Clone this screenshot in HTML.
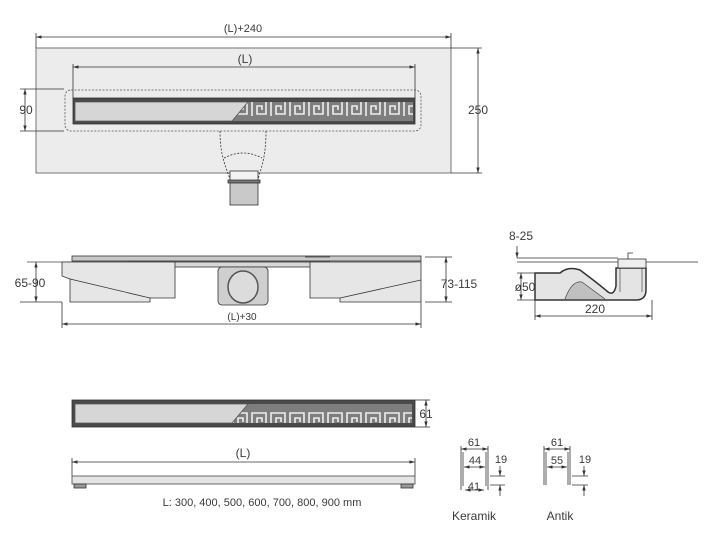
<!DOCTYPE html>
<html><head><meta charset="utf-8"><style>
html,body{margin:0;padding:0;background:#fff;width:715px;height:544px;overflow:hidden}
svg{display:block;font-family:"Liberation Sans",sans-serif}
text{fill:#3a3a3a}
</style></head><body>
<svg width="715" height="544" viewBox="0 0 715 544" xmlns="http://www.w3.org/2000/svg">
<defs>
<marker id="a" viewBox="0 0 10 10" refX="10" refY="5" markerWidth="7" markerHeight="7" orient="auto-start-reverse"><path d="M0,2 L10,5 L0,8z" fill="#333"/></marker>
<pattern id="gk" x="250" y="0" width="19" height="24" patternUnits="userSpaceOnUse">
<rect width="19" height="24" fill="#7e7e7e"/>
<path d="M2,20 V5 H16 V18 H7 V10 H12 V14" fill="none" stroke="#eee" stroke-width="1.6"/>
</pattern>
</defs>
<g stroke="#333" stroke-width="0.8" fill="none">
<!-- TOP VIEW -->
<rect x="36" y="48" width="415" height="125" fill="#ececec" stroke="#555"/>
<line x1="36" y1="37" x2="451" y2="37" marker-start="url(#a)" marker-end="url(#a)"/>
<line x1="36" y1="33" x2="36" y2="48"/><line x1="451" y1="33" x2="451" y2="48"/>
<line x1="478" y1="48" x2="478" y2="173" marker-start="url(#a)" marker-end="url(#a)"/>
<line x1="451" y1="48" x2="482" y2="48"/><line x1="451" y1="173" x2="482" y2="173"/>
<line x1="73" y1="67" x2="415" y2="67" marker-start="url(#a)" marker-end="url(#a)"/>
<line x1="73" y1="64" x2="73" y2="99"/><line x1="415" y1="64" x2="415" y2="99"/>
<line x1="25" y1="89" x2="25" y2="131" marker-start="url(#a)" marker-end="url(#a)"/>
<line x1="20" y1="89" x2="64" y2="89"/><line x1="20" y1="131" x2="64" y2="131"/>
<rect x="65" y="90" width="356" height="41" rx="6" stroke-dasharray="2,1.5" stroke="#555"/>
<rect x="73" y="98" width="342" height="26" fill="#4a4a4a"/>
<rect x="75" y="102" width="338" height="19" fill="url(#gk)" stroke="none"/>
<polygon points="75,102 248,102 232,121 75,121" fill="#d6d6d6" stroke="#555"/>
<path d="M220,131 C220,160 228,170 230,180 M266,131 C266,160 260,170 258,180" stroke-dasharray="2,1.5"/>
<path d="M224,158 Q243,148 262,158" stroke-dasharray="2,1.5"/>
<rect x="230" y="171" width="28" height="10" fill="#f3f3f3"/>
<rect x="228" y="180" width="32" height="3" fill="#777"/>
<rect x="230" y="183" width="28" height="22" fill="#c9c9c9"/>
<!-- SIDE VIEW -->
<rect x="72" y="256" width="349" height="5" fill="#c8c8c8"/>
<line x1="27" y1="262" x2="330" y2="262" stroke="#444"/>
<rect x="130" y="262" width="200" height="5" fill="#d8d8d8"/>
<line x1="305" y1="257" x2="330" y2="257"/>
<path d="M62,262 H175 V298 H150 V302 H70 V279 L62,276Z" fill="#e6e6e6"/>
<path d="M70,279 L150,298" />
<path d="M310,262 H421 V302 H340 V298 H310Z" fill="#e6e6e6"/>
<path d="M340,298 L421,280"/>
<rect x="218" y="267" width="50" height="38" rx="4" fill="#cfcfcf"/>
<ellipse cx="243" cy="287" rx="15" ry="16" fill="#dcdcdc" stroke="#555" stroke-width="1.5"/>
<line x1="36" y1="262" x2="36" y2="302" marker-start="url(#a)" marker-end="url(#a)"/>
<line x1="20" y1="302" x2="62" y2="302"/>
<line x1="446" y1="257" x2="446" y2="302" marker-start="url(#a)" marker-end="url(#a)"/>
<line x1="425" y1="257" x2="452" y2="257"/><line x1="425" y1="302" x2="452" y2="302"/>
<line x1="62" y1="324" x2="421" y2="324" marker-start="url(#a)" marker-end="url(#a)"/>
<line x1="62" y1="302" x2="62" y2="328"/><line x1="421" y1="302" x2="421" y2="328"/>
<!-- DETAIL -->
<line x1="517" y1="258" x2="618" y2="258"/>
<line x1="517" y1="262" x2="698" y2="262"/>
<line x1="517" y1="246" x2="517" y2="258" marker-end="url(#a)"/>
<path d="M535,273 H560 Q568,266 580,270 Q600,285 608,292 Q614,296 616,286 V268 H646 V290 Q646,300 636,300 H535Z" fill="#e4e4e4" stroke="#333" stroke-width="1.5"/>
<path d="M565,299 Q572,280 582,282 L605,299" fill="#c0c0c0" stroke-width="0.6"/>
<path d="M620,268 V292 M642,268 V292" stroke-width="0.6"/>
<rect x="618" y="259" width="28" height="9" fill="#eee"/>
<path d="M628,259 V253 H633"/>
<line x1="521" y1="273" x2="521" y2="300" marker-start="url(#a)" marker-end="url(#a)"/>
<line x1="517" y1="273" x2="535" y2="273"/><line x1="517" y1="300" x2="535" y2="300"/>
<line x1="535" y1="316" x2="652" y2="316" marker-start="url(#a)" marker-end="url(#a)"/>
<line x1="535" y1="300" x2="535" y2="320"/><line x1="652" y1="300" x2="652" y2="320"/>
<!-- BOTTOM GRATE -->
<rect x="72" y="400" width="343" height="27" fill="#4a4a4a"/>
<rect x="75" y="404" width="337" height="19" fill="url(#gk)" stroke="none"/>
<polygon points="75,404 248,404 232,423 75,423" fill="#d6d6d6" stroke="#555"/>
<line x1="426" y1="400" x2="426" y2="427" marker-start="url(#a)" marker-end="url(#a)"/>
<line x1="415" y1="400" x2="430" y2="400"/><line x1="415" y1="427" x2="430" y2="427"/>
<line x1="72" y1="462" x2="415" y2="462" marker-start="url(#a)" marker-end="url(#a)"/>
<line x1="72" y1="458" x2="72" y2="476"/><line x1="415" y1="458" x2="415" y2="476"/>
<rect x="72" y="476" width="343" height="8" fill="#e4e4e4" stroke="#444"/>
<rect x="74" y="484" width="12" height="4" fill="#999"/><rect x="401" y="484" width="12" height="4" fill="#999"/>
<!-- PROFILES -->
<line x1="461" y1="449" x2="488" y2="449" marker-start="url(#a)" marker-end="url(#a)"/>
<path d="M461,446 V490 M488,446 V490 M463,452 V486 M486,452 V486"/>
<line x1="464" y1="467" x2="485" y2="467" marker-start="url(#a)" marker-end="url(#a)"/>
<line x1="465" y1="490" x2="484" y2="490" marker-start="url(#a)" marker-end="url(#a)"/>
<path d="M490,476 H505 M490,485 H505"/>
<line x1="500" y1="466" x2="500" y2="476" marker-end="url(#a)"/>
<line x1="500" y1="496" x2="500" y2="485" marker-end="url(#a)"/>
<line x1="544" y1="449" x2="570" y2="449" marker-start="url(#a)" marker-end="url(#a)"/>
<path d="M544,446 V485 M570,446 V485 M546,452 V485 M568,452 V485"/>
<line x1="547" y1="467" x2="567" y2="467" marker-start="url(#a)" marker-end="url(#a)"/>
<path d="M572,476 H588 M572,485 H588"/>
<line x1="584" y1="466" x2="584" y2="476" marker-end="url(#a)"/>
<line x1="584" y1="496" x2="584" y2="485" marker-end="url(#a)"/>
</g>
<g font-size="12" text-anchor="middle">
<text x="243" y="32" font-size="11">(L)+240</text>
<text x="478" y="114">250</text>
<text x="245" y="63">(L)</text>
<text x="26" y="114">90</text>
<text x="30" y="287">65-90</text>
<text x="459" y="288">73-115</text>
<text x="242" y="320" font-size="10">(L)+30</text>
<text x="521" y="240">8-25</text>
<text x="525" y="291">ø50</text>
<text x="595" y="313">220</text>
<text x="426" y="418">61</text>
<text x="243" y="457">(L)</text>
<text x="262" y="506" font-size="11">L: 300, 400, 500, 600, 700, 800, 900 mm</text>
<text x="474" y="446" font-size="11">61</text>
<text x="475" y="464" font-size="11">44</text>
<text x="474" y="490" font-size="11">41</text>
<text x="501" y="463" font-size="11">19</text>
<text x="474" y="520">Keramik</text>
<text x="557" y="446" font-size="11">61</text>
<text x="557" y="464" font-size="11">55</text>
<text x="585" y="463" font-size="11">19</text>
<text x="560" y="520">Antik</text>
</g>
</svg>
</body></html>
